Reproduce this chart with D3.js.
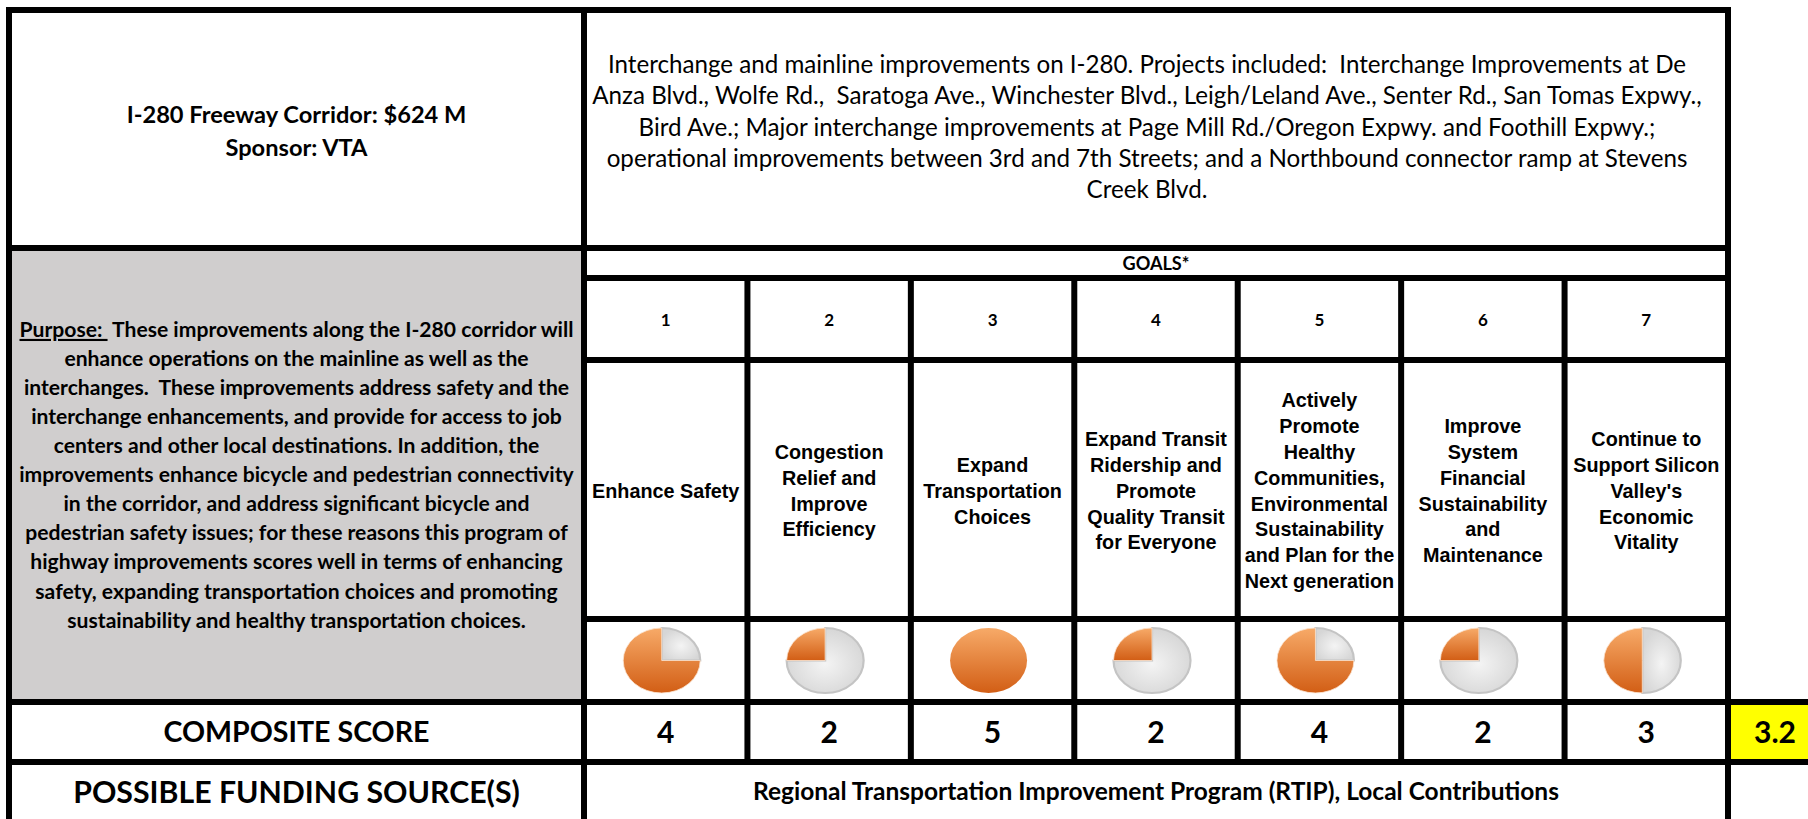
<!DOCTYPE html>
<html>
<head>
<meta charset="utf-8">
<script src="https://cdn.jsdelivr.net/npm/d3@7"></script>
<style>
  html, body { margin: 0; padding: 0; background: #ffffff; }
  svg { display: block; }
  text { white-space: pre; }
</style>
</head>
<body>
<svg id="chart" width="1808" height="819"></svg>
<script>
// ---------------- DATA ----------------
const titleLines = ["I-280 Freeway Corridor: $624 M", "Sponsor: VTA"];
const descriptionLines = [
  "Interchange and mainline improvements on I-280. Projects included:  Interchange Improvements at De",
  "Anza Blvd., Wolfe Rd.,  Saratoga Ave., Winchester Blvd., Leigh/Leland Ave., Senter Rd., San Tomas Expwy.,",
  "Bird Ave.; Major interchange improvements at Page Mill Rd./Oregon Expwy. and Foothill Expwy.;",
  "operational improvements between 3rd and 7th Streets; and a Northbound connector ramp at Stevens",
  "Creek Blvd."
];
const purposeLabel = "Purpose: ";
const purposeLines = [
  " These improvements along the I-280 corridor will",
  "enhance operations on the mainline as well as the",
  "interchanges.  These improvements address safety and the",
  "interchange enhancements, and provide for access to job",
  "centers and other local destinations. In addition, the",
  "improvements enhance bicycle and pedestrian connectivity",
  "in the corridor, and address significant bicycle and",
  "pedestrian safety issues; for these reasons this program of",
  "highway improvements scores well in terms of enhancing",
  "safety, expanding transportation choices and promoting",
  "sustainability and healthy transportation choices."
];
const goalsHeader = "GOALS*";
const goalNumbers = ["1", "2", "3", "4", "5", "6", "7"];
const goalLabels = [
  ["Enhance Safety"],
  ["Congestion", "Relief and", "Improve", "Efficiency"],
  ["Expand", "Transportation", "Choices"],
  ["Expand Transit", "Ridership and", "Promote", "Quality Transit", "for Everyone"],
  ["Actively", "Promote", "Healthy", "Communities,", "Environmental", "Sustainability", "and Plan for the", "Next generation"],
  ["Improve", "System", "Financial", "Sustainability", "and", "Maintenance"],
  ["Continue to", "Support Silicon", "Valley's", "Economic", "Vitality"]
];
const goalScores = [4, 2, 5, 2, 4, 2, 3];
const compositeLabel = "COMPOSITE SCORE";
const compositeValue = "3.2";
const fundingLabel = "POSSIBLE FUNDING SOURCE(S)";
const fundingText = "Regional Transportation Improvement Program (RTIP), Local Contributions";

// ---------------- LAYOUT ----------------
const svg = d3.select("#chart");
const W = 1808, H = 819;
const xL = 9, xDiv = 584, xR = 1728;
const yT = 10, yGoals = 248, yNum = 278, yLab = 360, yPie = 619, yComp = 702, yFund = 762, yB = H + 10;
const lw = 6;
const LATO = "Lato, 'Open Sans', sans-serif";
const ARIAL = "'Liberation Sans', Arial, sans-serif";

const x = d3.scaleBand().domain(goalNumbers).range([xDiv, xR]);
const fracScale = d3.scaleLinear().domain([1, 5]).range([0, 2 * Math.PI]);

function fit(sel, target, base) {
  sel.attr("font-size", base);
  let maxW = 0;
  sel.each(function () { maxW = Math.max(maxW, this.getComputedTextLength()); });
  const fs = base * target / maxW;
  sel.attr("font-size", fs);
  return fs;
}

// defs: gradients
const defs = svg.append("defs");
const og = defs.append("linearGradient").attr("id", "orangeGrad")
  .attr("x1", 0).attr("y1", 0).attr("x2", 0).attr("y2", 1);
og.append("stop").attr("offset", "0%").attr("stop-color", "#F7AA68");
og.append("stop").attr("offset", "100%").attr("stop-color", "#D25E15");
const gg = defs.append("radialGradient").attr("id", "greyGrad")
  .attr("cx", "50%").attr("cy", "55%").attr("r", "55%");
gg.append("stop").attr("offset", "0%").attr("stop-color", "#F4F4F4");
gg.append("stop").attr("offset", "100%").attr("stop-color", "#D6D6D6");

// backgrounds
svg.append("rect").attr("x", xL).attr("y", yGoals).attr("width", xDiv - xL).attr("height", yComp - yGoals)
  .attr("fill", "#D0CECE");
svg.append("rect").attr("x", xR).attr("y", yComp).attr("width", W - xR).attr("height", yFund - yComp)
  .attr("fill", "#FFFF00");

// ---------------- TEXT ----------------
// title
const tSel = svg.append("g").selectAll("text").data(titleLines).join("text")
  .attr("x", (xL + xDiv) / 2).attr("text-anchor", "middle")
  .attr("font-family", LATO).attr("font-weight", "bold").attr("fill", "#000")
  .text(d => d);
const tfs = fit(tSel.filter((d, i) => i === 0), 340, 22);
tSel.attr("font-size", tfs).attr("y", (d, i) => 114.5 + i * 32.5 + 0.36 * tfs);

// description
const dSel = svg.append("g").selectAll("text").data(descriptionLines).join("text")
  .attr("x", 1147).attr("text-anchor", "middle")
  .attr("font-family", LATO).attr("fill", "#000")
  .text(d => d);
const dfs = fit(dSel.filter((d, i) => i === 1), 1110, 20);
dSel.attr("font-size", dfs).attr("y", (d, i) => 64 + i * 31.4 + 0.36 * dfs);

// purpose
const pSel = svg.append("g").selectAll("text").data(purposeLines).join("text")
  .attr("x", (xL + xDiv) / 2).attr("text-anchor", "middle")
  .attr("font-family", LATO).attr("font-weight", "bold").attr("fill", "#000");
pSel.each(function (d, i) {
  const t = d3.select(this);
  if (i === 0) t.append("tspan").attr("text-decoration", "underline").text(purposeLabel);
  t.append("tspan").text(d);
});
const pfs = fit(pSel.filter((d, i) => i === 5), 555, 19);
pSel.attr("font-size", pfs).attr("y", (d, i) => 329.3 + i * 29.07 + 0.36 * pfs);

// goals header
const gSel = svg.append("text").attr("x", (xDiv + xR) / 2).attr("text-anchor", "middle")
  .attr("font-family", LATO).attr("font-weight", "bold").text(goalsHeader);
const gfs = fit(gSel, 67, 16);
gSel.attr("y", 263 + 0.36 * gfs);

// goal numbers
const nfs = 17;
svg.append("g").selectAll("text").data(goalNumbers).join("text")
  .attr("x", d => x(d) + x.bandwidth() / 2).attr("y", 320 + 0.36 * nfs)
  .attr("text-anchor", "middle").attr("font-family", LATO).attr("font-weight", "bold")
  .attr("font-size", nfs).text(d => d);

// goal labels
const lfs = 19.8, lh = 25.9, labCenter = 490.5;
const labG = svg.append("g").selectAll("text").data(goalLabels).join("text")
  .attr("text-anchor", "middle").attr("font-family", ARIAL).attr("font-weight", "bold")
  .attr("font-size", lfs);
labG.each(function (lines, i) {
  const cx = x(goalNumbers[i]) + x.bandwidth() / 2;
  const y0 = labCenter - (lines.length - 1) * lh / 2 + 0.36 * lfs;
  d3.select(this).selectAll("tspan").data(lines).join("tspan")
    .attr("x", cx).attr("y", (d, j) => y0 + j * lh).text(d => d);
});

// pies
const rx = 38.5, ry = 32.5;
const arc = d3.arc().innerRadius(0).outerRadius(ry);
const pieG = svg.append("g").selectAll("g").data(goalScores).join("g")
  .attr("transform", (d, i) => `translate(${x(goalNumbers[i]) + x.bandwidth() / 2 - 4},660.5) scale(${rx / ry},1)`);
pieG.each(function (s) {
  const g = d3.select(this);
  const f = fracScale(s);
  if (f < 2 * Math.PI) {
    g.append("path")
      .attr("d", arc({ startAngle: 0, endAngle: 2 * Math.PI - f }))
      .attr("fill", "url(#greyGrad)").attr("stroke", "#C4C4C4").attr("stroke-width", 2.2)
      .attr("vector-effect", "non-scaling-stroke");
  }
  if (f > 0) {
    g.append("path")
      .attr("d", arc({ startAngle: -f, endAngle: 0 }))
      .attr("fill", "url(#orangeGrad)")
      .attr("stroke", f < 2 * Math.PI ? "#FBE3CF" : "none").attr("stroke-width", 0.8)
      .attr("vector-effect", "non-scaling-stroke");
  }
});

// composite label
const cSel = svg.append("text").attr("x", (xL + xDiv) / 2).attr("text-anchor", "middle")
  .attr("font-family", LATO).attr("font-weight", "bold").text(compositeLabel);
const cfs = fit(cSel, 266, 26);
cSel.attr("y", 732 + 0.36 * cfs);

// composite scores
const sfs = 30;
svg.append("g").selectAll("text").data(goalScores).join("text")
  .attr("x", (d, i) => x(goalNumbers[i]) + x.bandwidth() / 2).attr("y", 732 + 0.36 * sfs)
  .attr("text-anchor", "middle").attr("font-family", LATO).attr("font-weight", "bold")
  .attr("font-size", sfs).text(d => d);

// composite value
const vSel = svg.append("text").attr("x", 1796).attr("text-anchor", "end")
  .attr("font-family", LATO).attr("font-weight", "bold").text(compositeValue);
const vfs = fit(vSel, 42, 29);
vSel.attr("y", 732 + 0.36 * vfs);

// funding label
const fSel = svg.append("text").attr("x", (xL + xDiv) / 2).attr("text-anchor", "middle")
  .attr("font-family", LATO).attr("font-weight", "bold").text(fundingLabel);
const ffs = fit(fSel, 447, 26);
fSel.attr("y", 792 + 0.36 * ffs);

// funding text
const ftSel = svg.append("text").attr("x", (xDiv + xR) / 2).attr("text-anchor", "middle")
  .attr("font-family", LATO).attr("font-weight", "bold").text(fundingText);
const ftfs = fit(ftSel, 806, 20);
ftSel.attr("y", 791 + 0.36 * ftfs);

// ---------------- GRID LINES ----------------
const hLines = [
  [yT, xL, xR], [yGoals, xL, xR], [yNum, xDiv, xR], [yLab, xDiv, xR], [yPie, xDiv, xR],
  [yComp, xL, W], [yFund, xL, W]
];
const vLines = [
  [xL, yT, yB], [xDiv, yT, yB], [xR, yT, yB]
].concat(goalNumbers.slice(1).map(d => [x(d), yNum, yFund]));
const grid = svg.append("g").attr("stroke", "#000").attr("stroke-width", lw).attr("stroke-linecap", "square");
grid.selectAll("line.h").data(hLines).join("line").attr("class", "h")
  .attr("x1", d => d[1]).attr("x2", d => d[2]).attr("y1", d => d[0]).attr("y2", d => d[0]);
grid.selectAll("line.v").data(vLines).join("line").attr("class", "v")
  .attr("x1", d => d[0]).attr("x2", d => d[0]).attr("y1", d => d[1]).attr("y2", d => d[2]);
</script>
</body>
</html>
